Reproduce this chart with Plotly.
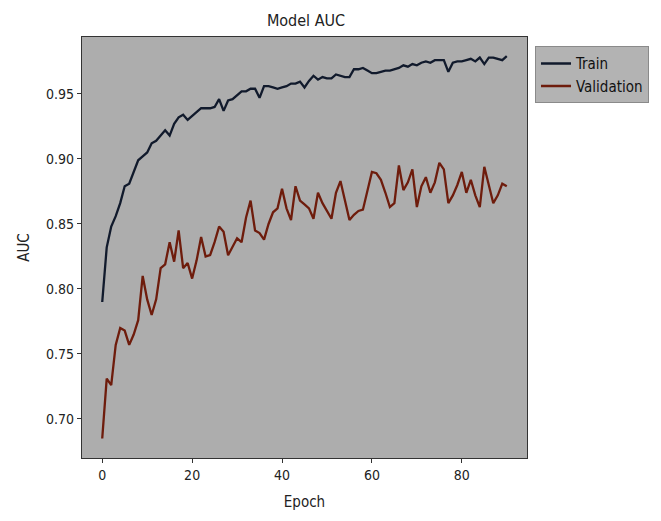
import plotly.graph_objects as go

epochs = list(range(91))
train_auc = [0.790, 0.832, 0.848, 0.856, 0.866, 0.879, 0.881, 0.890, 0.899, 0.902,
             0.905, 0.912, 0.914, 0.918, 0.922, 0.918, 0.927, 0.932, 0.934, 0.930,
             0.933, 0.936, 0.939, 0.939, 0.939, 0.940, 0.946, 0.937, 0.945, 0.946,
             0.949, 0.952, 0.952, 0.954, 0.954, 0.947, 0.956, 0.956, 0.955, 0.954,
             0.955, 0.956, 0.958, 0.958, 0.9595, 0.955, 0.960, 0.964, 0.961, 0.963,
             0.962, 0.962, 0.965, 0.964, 0.963, 0.963, 0.969, 0.969, 0.970, 0.968,
             0.966, 0.966, 0.967, 0.968, 0.968, 0.969, 0.970, 0.972, 0.971, 0.973,
             0.972, 0.974, 0.975, 0.974, 0.976, 0.976, 0.976, 0.967, 0.974, 0.975,
             0.975, 0.976, 0.977, 0.975, 0.978, 0.973, 0.978, 0.978, 0.977, 0.976,
             0.979]
val_auc = [0.685, 0.731, 0.726, 0.757, 0.770, 0.768, 0.757, 0.765, 0.776, 0.810,
           0.792, 0.780, 0.792, 0.816, 0.819, 0.836, 0.821, 0.845, 0.816, 0.820,
           0.808, 0.822, 0.840, 0.825, 0.826, 0.836, 0.848, 0.844, 0.826, 0.832,
           0.839, 0.836, 0.855, 0.868, 0.845, 0.843, 0.838, 0.850, 0.859, 0.862,
           0.877, 0.862, 0.853, 0.879, 0.868, 0.865, 0.862, 0.854, 0.874, 0.866,
           0.860, 0.854, 0.874, 0.883, 0.868, 0.853, 0.857, 0.860, 0.861, 0.875,
           0.890, 0.889, 0.884, 0.874, 0.863, 0.866, 0.895, 0.876, 0.882, 0.892,
           0.863, 0.879, 0.886, 0.874, 0.882, 0.897, 0.892, 0.866, 0.872, 0.880,
           0.890, 0.874, 0.884, 0.872, 0.863, 0.894, 0.881, 0.866, 0.872, 0.881,
           0.879]
x_ticks = [0, 20, 40, 60, 80]
y_ticks = [0.70, 0.75, 0.80, 0.85, 0.90, 0.95]

FONT = "DejaVu Sans Condensed, Liberation Sans Narrow, DejaVu Sans, sans-serif"

W, H = 653, 513

fig = go.Figure()
fig.add_trace(go.Scatter(x=epochs, y=train_auc, mode="lines", name="Train",
                         line=dict(color="#111a2c", width=2.3)))
fig.add_trace(go.Scatter(x=epochs, y=val_auc, mode="lines", name="Validation",
                         line=dict(color="#6e1c0c", width=2.3)))

axis_common = dict(showgrid=False, zeroline=False, showline=True, mirror=True,
                   linecolor="#333333", linewidth=1.2, ticks="outside", ticklen=4,
                   tickcolor="#333333", tickfont=dict(size=14, color="#222222"))

fig.update_layout(
    width=W, height=H,
    margin=dict(l=74, r=131, t=29, b=63),
    paper_bgcolor="white",
    plot_bgcolor="#adadad",
    font=dict(family=FONT, color="#222222"),
    title=dict(text="Model AUC", x=298/W, xanchor="center", y=1 - 12/H, yanchor="middle",
               font=dict(size=16, family=FONT, color="#222222")),
    xaxis=dict(range=[-4.5, 94.5], tickvals=x_ticks,
               title=dict(text="Epoch", font=dict(size=15), standoff=14), **axis_common),
    yaxis=dict(range=[0.6700, 0.9938], tickvals=y_ticks, tickformat=".2f",
               title=dict(text="AUC", font=dict(size=15), standoff=12), **axis_common),
    legend=dict(x=1.018, y=0.978, xanchor="left", yanchor="top",
                bgcolor="#b3b3b3", bordercolor="#8a8a8a", borderwidth=1,
                font=dict(size=15, color="#111111"), tracegroupgap=4),
    showlegend=True,
)

fig.write_html("out.html")
